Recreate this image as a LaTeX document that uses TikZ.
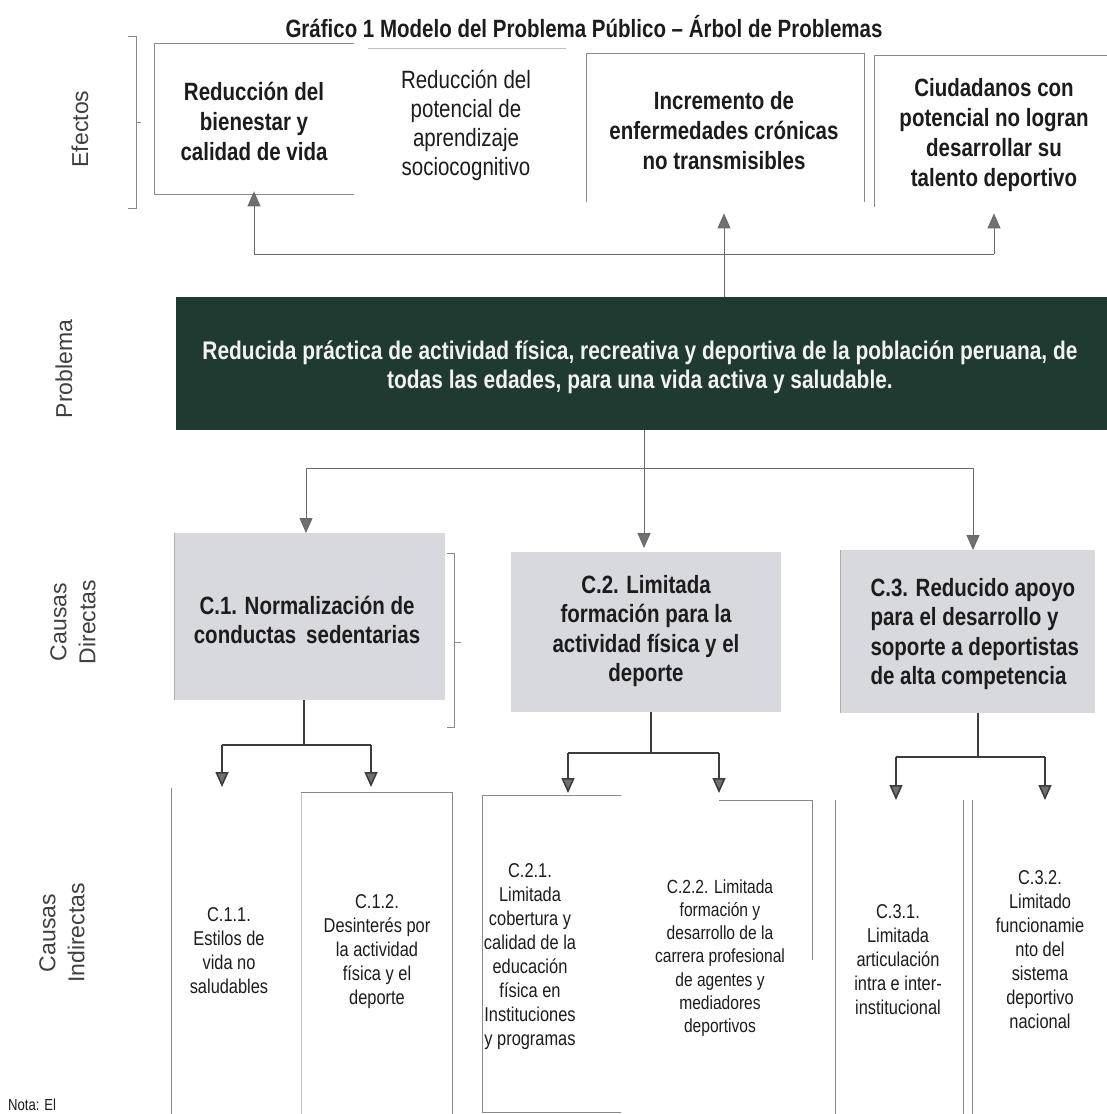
\documentclass[tikz,border=0pt]{standalone}
\usepackage{fontspec}
\setmainfont{Liberation Sans}
\newfontfamily\narrow[FakeStretch=0.82]{Liberation Sans}
\usetikzlibrary{arrows.meta}
\definecolor{probgreen}{HTML}{1F3A30}
\definecolor{cfill}{HTML}{D8D9DF}
\definecolor{lowc}{HTML}{3C3C3C}
\definecolor{upc}{HTML}{6A6A6A}
\definecolor{arrc}{HTML}{707070}
\definecolor{boxc}{HTML}{8A8A8A}
\definecolor{txt}{HTML}{1C1C1C}
\begin{document}
\begin{tikzpicture}[x=1pt,y=-1pt,
  frame/.style={rectangle, draw=none, inner sep=0pt, anchor=north west},
  bord/.style={draw=boxc, line width=1pt},
  faint/.style={draw=boxc!55, line width=0.8pt},
  title/.style={font={\narrow\bfseries\fontsize{25}{30}\selectfont}, text=txt},
  eftb/.style={font={\narrow\bfseries\fontsize{25}{30}\selectfont}, align=center, text=txt},
  eftr/.style={font={\narrow\fontsize{25}{29}\selectfont}, align=center, text=txt},
  probt/.style={font={\narrow\bfseries\fontsize{25.5}{29}\selectfont}, align=center, text=white!95!black},
  ctb/.style={font={\narrow\bfseries\fontsize{25}{29.5}\selectfont}, align=center, text=txt},
  itx/.style={font={\narrow\fontsize{20}{24}\selectfont}, align=center, text=txt},
  lab/.style={font={\fontsize{23}{29}\selectfont}, align=center, text=black!75, rotate=90},
  upl/.style={draw=upc, line width=1pt},
  upa/.style={draw=upc, line width=1pt, -{Triangle[width=13pt,length=15pt,fill=arrc]}},
  lowl/.style={draw=lowc, line width=1.6pt},
  lowa/.style={draw=lowc, line width=1.6pt, -{Triangle[width=13pt,length=15pt,fill=arrc]}},
  brk/.style={draw=boxc, line width=1pt}
]
\useasboundingbox (0,0) rectangle (1107,1114);
\fill[white] (0,0) rectangle (1107,1114);

% title
\node[title] (ttl) at (584,27) {Gráfico 1 Modelo del Problema Público – Árbol de Problemas};

% row labels
\node[lab] (lef) at (80,129) {Efectos};
\node[lab] (lpr) at (64,369) {Problema};
\node[lab] (lcd) at (73,622) {Causas\\Directas};
\node[lab] (lci) at (62,933) {Causas\\Indirectas};
\draw[brk] (128,36) -- (136,36) -- (136,208) -- (128,208);
\draw[brk] (136,122) -- (141,122);

% effect boxes
\node[frame, minimum width=200pt, minimum height=151pt] (e1) at (154,43) {};
\node[frame, minimum width=198pt, minimum height=150pt] (e2) at (368,48) {};
\node[frame, minimum width=278pt, minimum height=149pt] (e3) at (586,53) {};
\node[frame, minimum width=233pt, minimum height=152pt] (e4) at (874,55) {};
\draw[bord] (e1.north east) -- (e1.north west) -- (e1.south west) -- (e1.south east);
\draw[faint] (e2.north west) -- (e2.north east);
\draw[bord] (e3.south west) -- (e3.north west) -- (e3.north east) -- (e3.south east);
\draw[bord] (e4.south west) -- (e4.north west) -- (e4.north east);

\node[eftb] (e1t) at (254,121) {Reducción del\\bienestar y\\calidad de vida};
\node[eftr] (e2t) at (466,125) {Reducción del\\potencial de\\aprendizaje\\sociocognitivo};
\node[eftb] (e3t) at (724,131) {Incremento de\\enfermedades crónicas\\no transmisibles};
\node[eftb] (e4t) at (994,135) {Ciudadanos con\\potencial no logran\\desarrollar su\\talento deportivo};

% problem
\node[frame, fill=probgreen, minimum width=931pt, minimum height=133pt] (prob) at (176,297) {};
\node[probt] (probtx) at (640,367) {Reducida práctica de actividad física, recreativa y deportiva de la población peruana, de\\todas las edades, para una vida activa y saludable.};

% connectors problem -> effects
\coordinate (hl) at (254,254);
\coordinate (hr) at (994,254);
\draw[upl] (hl) -- (hr);
\draw[upa, shorten >=-3pt] (hl) -- (hl |- e1.south);
\draw[upa, shorten >=6pt] (hr) -- (hr |- e4.south);
\draw[upa, shorten >=11pt] (prob.north -| e3t) -- (e3.south -| e3t);

% direct causes
\node[frame, fill=cfill, minimum width=271pt, minimum height=167pt] (c1) at (174,533) {};
\node[frame, fill=cfill, minimum width=270pt, minimum height=160pt] (c2) at (511,552) {};
\node[frame, fill=cfill, minimum width=255pt, minimum height=163pt] (c3) at (840,550) {};
\draw[draw=boxc!70, line width=0.6pt] (c1.north west) -- (c1.south west);
\draw[draw=boxc!70, line width=0.6pt] (c3.north west) -- (c3.south west);
\draw[brk] (447,553) -- (454,553) -- (454,727) -- (447,727);
\draw[brk] (454,642) -- (461,642);

\node[ctb] (c1t) at (307,620) {C.1. Normalización de\\conductas\, sedentarias};
\node[ctb] (c2t) at (646,631) {C.2. Limitada\\formación para la\\actividad física y el\\deporte};
\node[ctb, align=left, anchor=west] (c3t) at (867,634) {C.3. Reducido apoyo\\para el desarrollo y\\soporte a deportistas\\de alta competencia};

% connectors problem -> direct causes
\coordinate (dj) at (644,468);
\coordinate (dl) at (306,468);
\coordinate (dr) at (973,468);
\draw[upl] (prob.south -| dj) -- (dj);
\draw[upl] (dl) -- (dr);
\draw[upa] (dl) -- (dl |- c1.north);
\draw[upa, shorten >=4pt] (dj) -- (dj |- c2.north);
\draw[upa] (dr) -- (dr |- c3.north);

% indirect boxes
\node[frame, minimum width=130pt, minimum height=326pt] (i11) at (171,788) {};
\node[frame, minimum width=151pt, minimum height=322pt] (i12) at (301,792) {};
\node[frame, minimum width=139pt, minimum height=317pt] (i21) at (482,795) {};
\node[frame, minimum width=93pt, minimum height=314pt] (i22) at (719,800) {};
\node[frame, minimum width=128pt, minimum height=314pt] (i31) at (835,800) {};
\node[frame, minimum width=120pt, minimum height=314pt] (i32) at (972,800) {};
\draw[bord] (i11.north west) -- (i11.south west);
\draw[faint] (i12.south west) -- (i12.north west);
\draw[bord] (i12.north west) -- (i12.north east) -- (i12.south east);
\draw[bord] (i21.north east) -- (i21.north west) -- (i21.south west) -- (i21.south east);
\draw[bord] (i22.north west) -- (i22.north east) -- (i22.east |- 0,960);
\draw[bord] (i31.north west) -- (i31.south west);
\draw[bord] (i31.north east) -- (i31.south east);
\draw[bord] (i32.north west) -- (i32.south west);

\node[itx] (i11t) at (229,951) {C.1.1.\\Estilos de\\vida no\\saludables};
\node[itx] (i12t) at (377,952) {C.1.2.\\Desinterés por\\la actividad\\física y el\\deporte};
\node[itx] (i21t) at (530,957) {C.2.1.\\Limitada\\cobertura y\\calidad de la\\educación\\física en\\Instituciones\\y programas};
\node[itx, font={\narrow\fontsize{19}{23.3}\selectfont}] (i22t) at (720,958) {C.2.2. Limitada\\formación y\\desarrollo de la\\carrera profesional\\de agentes y\\mediadores\\deportivos};
\node[itx] (i31t) at (898,960) {C.3.1.\\Limitada\\articulación\\intra e inter-\\institucional};
\node[itx] (i32t) at (1040,950) {C.3.2.\\Limitado\\funcionamie\\nto del\\sistema\\deportivo\\nacional};

% connectors direct -> indirect
\coordinate (c1j) at (304,745);
\coordinate (c1l) at (222,745);
\coordinate (c1r) at (371,745);
\coordinate (t11) at (222,787);
\coordinate (t12) at (371,787);
\draw[lowl] (c1.south -| c1j) -- (c1j);
\draw[lowl] (c1l) -- (c1r);
\draw[lowa] (c1l) -- (t11);
\draw[lowa] (c1r) -- (t12);

\coordinate (c2j) at (651,753);
\coordinate (c2l) at (568,753);
\coordinate (c2r) at (719,753);
\coordinate (t21) at (568,793);
\coordinate (t22) at (719,793);
\draw[lowl] (c2.south -| c2j) -- (c2j);
\draw[lowl] (c2l) -- (c2r);
\draw[lowa] (c2l) -- (t21);
\draw[lowa] (c2r) -- (t22);

\coordinate (c3j) at (978,757);
\coordinate (c3l) at (896,757);
\coordinate (c3r) at (1045,757);
\coordinate (t31) at (896,800);
\coordinate (t32) at (1045,800);
\draw[lowl] (c3.south -| c3j) -- (c3j);
\draw[lowl] (c3l) -- (c3r);
\draw[lowa] (c3l) -- (t31);
\draw[lowa] (c3r) -- (t32);

% note at the bottom edge
\node[font={\narrow\fontsize{16}{19}\selectfont}, text=txt, anchor=south west, inner sep=0pt] (nota) at (8,1111) {Nota: El};
\end{tikzpicture}
\end{document}
